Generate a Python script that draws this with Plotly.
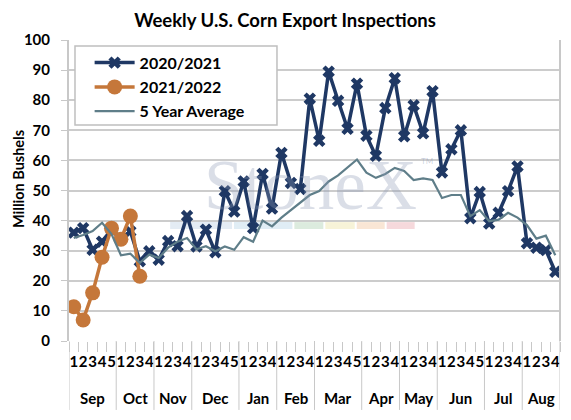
import plotly.graph_objects as go

months = ["Sep", "Oct", "Nov", "Dec", "Jan", "Feb", "Mar", "Apr", "May", "Jun", "Jul", "Aug"]
weeks_per_month = [5, 4, 4, 5, 4, 4, 5, 4, 4, 5, 4, 4]

y2020 = [36, 37.5, 30.3, 33, 37, 34, 36.4, 26.5, 29.8,
         27, 33.2, 31.5, 41.5,
         31.4, 37, 29.5, 49.8, 43,
         53, 37.5, 55.5, 44,
         62.5, 52.5, 50.5, 80.5,
         66.5, 89.5, 79.8, 70.5, 85.5,
         68.2, 61.5, 77.4, 87.3,
         68, 78.3, 69, 83,
         56, 63.7, 70, 40.8, 49.5,
         39, 42.6, 49.8, 58,
         32.5, 31, 30.2, 23]
y2021 = [11.4, 7, 16, 27.8, 37.5, 33.8, 41.5, 21.5]
avg5 = [34.2, 35.2, 36.5, 39.3, 35.5, 28.5, 29, 26, 28.7,
        27.6, 31, 33, 34.2,
        30.5, 31.5, 29.8, 31.4, 30.3,
        34.5, 33, 40, 38.1,
        41, 43.5, 46, 48.5,
        49.8, 53, 55, 57.5, 60.3,
        55.9, 54.2, 55.5, 57.5,
        56.5, 53.5, 54, 53.5,
        47.5, 48.5, 48.5, 41.5, 43.5,
        39.8, 40.3, 42.6, 41,
        38.5, 34, 35, 28.5]

week_labels = []
for n in weeks_per_month:
    week_labels += [str(k + 1) for k in range(n)]
xs = list(range(len(week_labels)))

NAVY = "#1F3864"
ORANGE = "#C5773A"
GRAY = "#5F7E89"
FONT = "Lato"

fig = go.Figure()
fig.add_trace(go.Scatter(x=xs, y=y2020, name="2020/2021", mode="lines+markers",
                         legendgroup="a",
                         line=dict(color=NAVY, width=3.5),
                         marker=dict(symbol="x", size=11, color=NAVY)))
fig.add_trace(go.Scatter(x=xs[:len(y2021)], y=y2021, name="2021/2022", mode="lines+markers",
                         legendgroup="b",
                         line=dict(color=ORANGE, width=3.5),
                         marker=dict(symbol="circle", size=15, color=ORANGE)))
fig.add_trace(go.Scatter(x=xs, y=avg5, name="5 Year Average", mode="lines",
                         legendgroup="c",
                         line=dict(color=GRAY, width=2.2)))

shapes = []
annotations = []
start = 0
bounds = [-0.5]
for m, n in zip(months, weeks_per_month):
    annotations.append(dict(x=start + (n - 1) / 2, y=-0.19, xref="x", yref="paper",
                            xanchor="center", yanchor="middle",
                            text=m, showarrow=False,
                            font=dict(family=FONT, size=15, color="black", weight="bold")))
    start += n
    bounds.append(start - 0.5)
for b in bounds:
    shapes.append(dict(type="line", xref="x", yref="paper", x0=b, x1=b, y0=0, y1=-0.229,
                       line=dict(color="#C8C8C8", width=1)))
shapes.append(dict(type="line", xref="paper", yref="paper", x0=1, x1=1, y0=0, y1=1,
                   line=dict(color="#C8C8C8", width=2)))

# faint watermark strip
strip = [(0.206, 0.332, "#DDE7F1"), (0.336, 0.455, "#D8E8F2"), (0.459, 0.518, "#D3E6D6"),
         (0.522, 0.582, "#F5F0CE"), (0.586, 0.643, "#F7E0CA"), (0.647, 0.704, "#F4D0D3")]
for x0, x1, c in strip:
    shapes.append(dict(type="rect", xref="paper", yref="paper", x0=x0, x1=x1,
                       y0=0.372, y1=0.395, fillcolor=c, line=dict(width=0), layer="below",
                       opacity=0.8))
# legend box
shapes.append(dict(type="rect", xref="paper", yref="paper", x0=0.0122, x1=0.4236,
                   y0=0.7176, y1=0.980, fillcolor="white",
                   line=dict(color="#BFBFBF", width=1.5), layer="above"))

annotations.append(dict(x=0.491, y=0.518, xref="paper", yref="paper",
                        xanchor="center", yanchor="middle", text="StoneX",
                        showarrow=False, font=dict(family="Liberation Serif", size=71,
                                                   color="rgba(140,152,180,0.32)")))
annotations.append(dict(x=0.729, y=0.597, xref="paper", yref="paper",
                        xanchor="center", yanchor="middle", text="TM",
                        showarrow=False, font=dict(family=FONT, size=8,
                                                   color="rgba(140,152,180,0.45)")))
annotations.append(dict(x=-0.104, y=0.538, xref="paper", yref="paper", text="Million Bushels",
                        xanchor="center", yanchor="middle",
                        textangle=-90, showarrow=False,
                        font=dict(family=FONT, size=14.5, color="black", weight="bold")))

fig.update_layout(
    width=563, height=412,
    margin=dict(l=61, r=11, t=32, b=79, autoexpand=False),
    paper_bgcolor="white", plot_bgcolor="white",
    title=dict(text="Weekly U.S. Corn Export Inspections", x=0.492, xref="container",
               y=0.97, yref="container", xanchor="center", yanchor="middle",
               font=dict(family=FONT, size=18.5, color="black", weight="bold")),
    showlegend=True,
    legend=dict(x=0.042, y=0.981, xanchor="left", yanchor="top",
                bgcolor="rgba(0,0,0,0)", borderwidth=0, traceorder="grouped",
                font=dict(family=FONT, size=16, color="black", weight="bold"),
                itemwidth=40, tracegroupgap=0.5),
    shapes=shapes, annotations=annotations,
    font=dict(family=FONT, color="black"),
)
fig.update_xaxes(range=[-0.5, len(xs) - 0.5], tickmode="array", tickvals=xs,
                 ticktext=week_labels, tickangle=0, automargin=False,
                 tickfont=dict(family=FONT, size=15, color="black", weight="bold"),
                 ticks="outside", ticklen=7, tickcolor="rgba(0,0,0,0)",
                 minor=dict(tickmode="linear", tick0=0.5, dtick=1, ticks="outside",
                            ticklen=10, tickcolor="#C8C8C8", tickwidth=1, showgrid=False),
                 showgrid=False, zeroline=False, showline=False)
fig.update_yaxes(range=[0, 100], tickmode="linear", tick0=0, dtick=10, automargin=False,
                 tickfont=dict(family=FONT, size=15, color="black", weight="bold"),
                 ticks="outside", ticklen=6, tickcolor="#C8C8C8", ticklabelstandoff=8,
                 showgrid=True, gridcolor="#CCCCCC", gridwidth=1.5,
                 zeroline=False, showline=True, linecolor="#C8C8C8", linewidth=2)

fig.write_html("out.html")
